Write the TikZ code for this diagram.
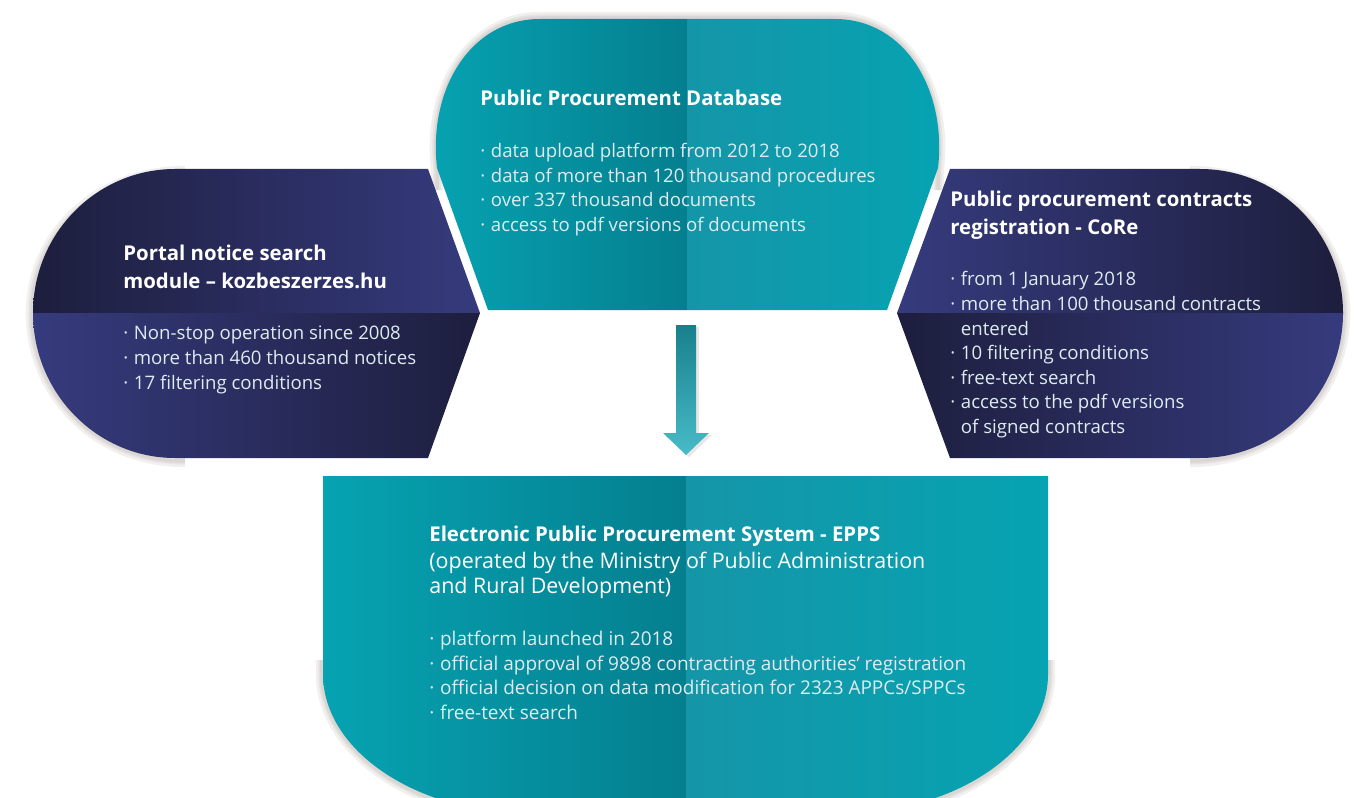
\documentclass[tikz,border=0pt]{standalone}
\usepackage{fontspec}
\setmainfont{Open Sans}
\usetikzlibrary{positioning}

\definecolor{navyDark}{RGB}{29,30,61}
\definecolor{navyLight}{RGB}{54,59,126}
\definecolor{tealOuter}{RGB}{6,163,178}
\definecolor{tealInner}{RGB}{5,127,143}
\definecolor{tealFold}{RGB}{20,150,168}
\definecolor{shadowGrey}{RGB}{105,88,78}
\definecolor{arrowTop}{RGB}{24,128,140}
\definecolor{arrowBottom}{RGB}{72,187,200}
\definecolor{lightText}{RGB}{222,236,240}

\newcommand{\dotitem}{·\hspace{0.3em}}
\newcommand{\dotindent}{\hphantom{\dotitem}}
\newcommand{\titlefont}{\color{white}\fontsize{11.6}{14}\selectfont\bfseries}

\tikzset{
  boxtext/.style={anchor=north west, inner sep=0pt, align=left,
    text=lightText, font=\fontsize{10.6}{14}\selectfont},
  halo/.style={draw=shadowGrey, line width=#1, opacity=0.09},
}

\begin{document}
\begin{tikzpicture}[x=0.02cm,y=-0.02cm]
    \useasboundingbox (0,0) rectangle (1354,797);

    % Soft shadows along the round edges
    \foreach \w in {7,4,2} {
      \draw[halo=\w] (185,172) .. controls (97,172) and (32,235) .. (32,313) .. controls (32,395) and (97,461) .. (185,461);
      \draw[halo=\w] (1190,172) .. controls (1279,172) and (1344,235) .. (1344,313) .. controls (1344,395) and (1279,461) .. (1190,461);
      \draw[halo=\w] (437,190) -- (437,168) .. controls (428,90) and (470,18) .. (540,18) -- (835,18) .. controls (905,18) and (947,90) .. (938,168) -- (938,190);
      \draw[halo=\w] (322,660) -- (322,674) .. controls (322,752) and (417,816) .. (533,816);
      \draw[halo=\w] (1049,660) -- (1049,674) .. controls (1049,752) and (954,816) .. (838,816);
    }

    % Left box: portal notice search
    \begin{scope}
      \clip (175,169) -- (428,169) -- (480,313) -- (428,458) -- (175,458)
        .. controls (97,458) and (33,393) .. (33,313)
        .. controls (33,233) and (97,169) .. (175,169) -- cycle;
      \shade[left color=navyDark, right color=navyLight] (30,165) rectangle (485,313);
      \shade[left color=navyLight, right color=navyDark] (30,313) rectangle (485,462);
    \end{scope}

    % Right box: CoRe
    \begin{scope}
      \clip (950,169) -- (1200,169)
        .. controls (1279,169) and (1343,233) .. (1343,313)
        .. controls (1343,393) and (1279,458) .. (1200,458)
        -- (950,458) -- (897,313) -- cycle;
      \shade[left color=navyLight, right color=navyDark] (893,165) rectangle (1347,313);
      \shade[left color=navyDark, right color=navyLight] (893,313) rectangle (1347,462);
    \end{scope}

    % Top box: database
    \begin{scope}
      \clip (488,310) -- (437,168) .. controls (428,90) and (470,19) .. (540,19)
        -- (835,19) .. controls (905,19) and (947,90) .. (938,168)
        -- (887,310) -- cycle;
      \shade[left color=tealOuter, right color=tealInner] (425,15) rectangle (687,315);
      \shade[left color=tealFold, right color=tealOuter] (687,15) rectangle (950,315);
    \end{scope}

    % Bottom box: EPPS
    \begin{scope}
      \clip (323,476) -- (1048,476) -- (1048,674)
        .. controls (1048,751) and (954,814) .. (838,814) -- (533,814)
        .. controls (417,814) and (323,751) .. (323,674) -- cycle;
      \shade[left color=tealOuter, right color=tealInner] (320,470) rectangle (686,820);
      \shade[left color=tealFold, right color=tealOuter] (686,470) rectangle (1052,820);
    \end{scope}

    % Arrow from the database down to EPPS
    \coordinate (arrTop) at (686,325);
    \coordinate (arrTip) at (686,455);
    \fill[shadowGrey, opacity=0.15] (arrTop) ++(-7,2) -- ++(20,0) -- ++(0,108) -- ++(13,0) -- ++(-23,22) -- ++(-23,-22) -- ++(13,0) -- cycle;
    \shade[top color=arrowTop, bottom color=arrowBottom] (arrTop) ++(-10,0) -- ++(20,0) -- ++(0,108) -- ++(13,0) -- (arrTip) -- ++(-23,-22) -- ++(13,0) -- cycle;

    % Texts
    \node[boxtext] (pdb) at (480,90) {%
      {\titlefont Public Procurement Database}\\[15.5pt]
      \dotitem data upload platform from 2012 to 2018\\
      \dotitem data of more than 120 thousand procedures\\
      \dotitem over 337 thousand documents\\
      \dotitem access to pdf versions of documents};

    \node[boxtext] (portal) at (123,245) {%
      {\titlefont Portal notice search}\\[1.5pt]
      {\titlefont module -- kozbeszerzes.hu}\\[15.5pt]
      \dotitem Non-stop operation since 2008\\
      \dotitem more than 460 thousand notices\\
      \dotitem 17 filtering conditions};

    \node[boxtext] (core) at (950,191) {%
      {\titlefont Public procurement contracts}\\[1.5pt]
      {\titlefont registration - CoRe}\\[15.5pt]
      \dotitem from 1 January 2018\\
      \dotitem more than 100 thousand contracts\\
      \dotindent entered\\
      \dotitem 10 filtering conditions\\
      \dotitem free-text search\\
      \dotitem access to the pdf versions\\
      \dotindent of signed contracts};

    \node[boxtext, font=\fontsize{10.8}{14}\selectfont] (epps) at (429,526) {%
      {\titlefont Electronic Public Procurement System - EPPS}\\[1pt]
      {\color{white}\fontsize{12.2}{14}\selectfont (operated by the Ministry of Public Administration}\\[0.5pt]
      {\color{white}\fontsize{12.2}{14}\selectfont and Rural Development)}\\[15.5pt]
      \dotitem platform launched in 2018\\
      \dotitem official approval of 9898 contracting authorities' registration\\
      \dotitem official decision on data modification for 2323 APPCs/SPPCs\\
      \dotitem free-text search};
\end{tikzpicture}
\end{document}
